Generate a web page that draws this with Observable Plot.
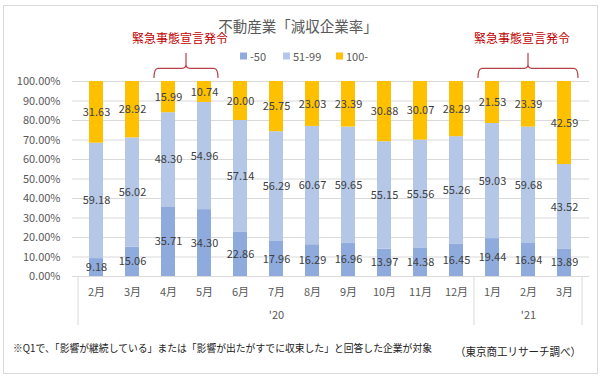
<!DOCTYPE html>
<html><head><meta charset="utf-8">
<script src="https://cdn.jsdelivr.net/npm/d3@7"></script>
<script src="https://cdn.jsdelivr.net/npm/@observablehq/plot@0.6"></script>
<style>
body{margin:0;background:#fff}
#chart{width:601px;height:381px}
</style>
</head><body><div id="chart"></div>
<script>
const keys = ["2020-02","2020-03","2020-04","2020-05","2020-06","2020-07","2020-08","2020-09","2020-10","2020-11","2020-12","2021-01","2021-02","2021-03"];
const monthLabels = ["2月","3月","4月","5月","6月","7月","8月","9月","10月","11月","12月","1月","2月","3月"];
const seriesNames = ["-50","51-99","100-"];
const under50 = [9.18,15.06,35.71,34.30,22.86,17.96,16.29,16.96,13.97,14.38,16.45,19.44,16.94,13.89];
const from51to99 = [59.18,56.02,48.30,54.96,57.14,56.29,60.67,59.65,55.15,55.56,55.26,59.03,59.68,43.52];
const over100 = [31.63,28.92,15.99,10.74,20.00,25.75,23.03,23.39,30.88,30.07,28.29,21.53,23.39,42.59];
const yTicks = [0,10,20,30,40,50,60,70,80,90,100];
const yearGroups = [{label:"'20", keys: keys.slice(0,11)}, {label:"'21", keys: keys.slice(11)}];
const annotationText = "緊急事態宣言発令";
const annotationSpans = [["2020-04","2020-05"],["2021-01","2021-03"]];
const title = "不動産業「減収企業率」";
const footnote = "※Q1で、「影響が継続している」または「影響が出たがすでに収束した」と回答した企業が対象";
const source = "（東京商工リサーチ調べ）";
const colors = ["#8faadc","#b4c7e7","#ffc000"];

const seriesValues = [under50, from51to99, over100];
const rows = [];
keys.forEach((k,i) => seriesNames.forEach((s,j) => rows.push({key:k, series:s, value:seriesValues[j][i]})));
const monthOf = new Map(keys.map((k,i)=>[k, monthLabels[i]]));
const yearRows = yearGroups.map(g => ({key: g.keys[Math.floor(g.keys.length/2)], label: g.label}));

const font = "'Noto Sans CJK JP', 'Noto Sans', sans-serif";
const plot = Plot.plot({
  width: 601, height: 381,
  marginTop: 81, marginBottom: 105, marginLeft: 72, marginRight: 12,
  style: {fontFamily: font, fontSize: "11px", background: "transparent", overflow: "visible"},
  x: {domain: keys, paddingInner: 0.61, paddingOuter: 0.305, axis: null},
  y: {domain: [0,100], axis: null},
  color: {domain: seriesNames, range: colors},
  marks: [
    Plot.gridY(yTicks, {stroke: "#d9d9d9", strokeOpacity: 1}),
    Plot.axisY(yTicks, {tickSize: 0, tickPadding: 12, label: null, tickFormat: d => d.toFixed(2) + "%", fill: "#595959", fontSize: 11}),
    Plot.barY(rows, Plot.stackY({x: "key", y: "value", fill: "series"})),
    Plot.text(rows, Plot.stackY({x: "key", y: "value", z: "series", text: d => d.value.toFixed(2), fill: "#404040", fontSize: 11})),
    Plot.ruleY([0], {stroke: "#d9d9d9"}),
    Plot.text(keys, {x: d => d, text: d => monthOf.get(d), frameAnchor: "bottom", dy: 16, lineAnchor: "middle", fill: "#595959", fontSize: 11}),
    Plot.text(yearRows, {x: "key", text: "label", frameAnchor: "bottom", dy: 39, lineAnchor: "middle", fill: "#595959", fontSize: 11})
  ]
});
document.getElementById("chart").appendChild(plot);

const svg = d3.select(plot);
const xs = plot.scale("x");
const ys = plot.scale("y");
const step = xs.step, bw = xs.bandwidth;
const bandStart = k => xs.apply(k);
const boundary = k => bandStart(k) - (step - bw) / 2;
const y0 = ys.apply(0), y100 = ys.apply(100);
const xLeft = boundary(keys[0]);
const xRight = boundary(keys[keys.length-1]) + step;

// outer border
svg.append("rect").attr("x", 3.5).attr("y", 5.5).attr("width", 594).attr("height", 368)
  .attr("fill", "none").attr("stroke", "#d9d9d9");

// group dividers
const dividerXs = [xLeft, ...yearGroups.slice(1).map(g => boundary(g.keys[0])), xRight];
dividerXs.forEach(x => svg.append("line").attr("x1", x).attr("x2", x).attr("y1", y0).attr("y2", y0 + 49)
  .attr("stroke", "#d9d9d9"));

// title
svg.append("text").attr("x", 298).attr("y", 25).attr("text-anchor", "middle").attr("dominant-baseline", "central")
  .attr("font-family", font).attr("font-size", 14.5).attr("fill", "#595959").text(title);

// legend
const legendItems = [{x: 240}, {x: 283}, {x: 336}];
seriesNames.forEach((s, i) => {
  const g = svg.append("g").attr("transform", `translate(${legendItems[i].x},56)`);
  g.append("rect").attr("x", 0).attr("y", -3.5).attr("width", 7).attr("height", 7).attr("fill", colors[i]);
  g.append("text").attr("x", 10).attr("y", 0).attr("text-anchor", "start").attr("dominant-baseline", "central")
    .attr("font-family", font).attr("font-size", 11).attr("fill", "#595959").text(s);
});

// annotations
annotationSpans.forEach(([a, b]) => {
  const x0 = bandStart(a) - 7, x1 = bandStart(b) + bw + 7;
  const xm = (x0 + x1) / 2;
  const yh = y100 - 12.7, yb = y100 - 3, yt = y100 - 28;
  svg.append("path")
    .attr("d", `M${x0},${yb} Q${x0},${yh} ${x0+4},${yh} L${xm-4},${yh} Q${xm},${yh} ${xm},${yh-4} L${xm},${yt} M${xm},${yh-4} Q${xm},${yh} ${xm+4},${yh} L${x1-4},${yh} Q${x1},${yh} ${x1},${yb}`)
    .attr("fill", "none").attr("stroke", "#b8404a").attr("stroke-width", 1.2);
  svg.append("text").attr("x", xm - 6).attr("y", 37).attr("text-anchor", "middle").attr("dominant-baseline", "central")
    .attr("font-family", font).attr("font-size", 12).attr("fill", "#c00000").text(annotationText);
});

// footnote & source
svg.append("text").attr("x", 13).attr("y", 347).attr("text-anchor", "start").attr("dominant-baseline", "central")
  .attr("font-family", font).attr("font-size", 10).attr("fill", "#222")
  .attr("textLength", 419).attr("lengthAdjust", "spacingAndGlyphs").text(footnote);
svg.append("text").attr("x", 455).attr("y", 351).attr("text-anchor", "start").attr("dominant-baseline", "central")
  .attr("font-family", font).attr("font-size", 11).attr("fill", "#222")
  .attr("textLength", 126).attr("lengthAdjust", "spacingAndGlyphs").text(source);
</script>
</body></html>
